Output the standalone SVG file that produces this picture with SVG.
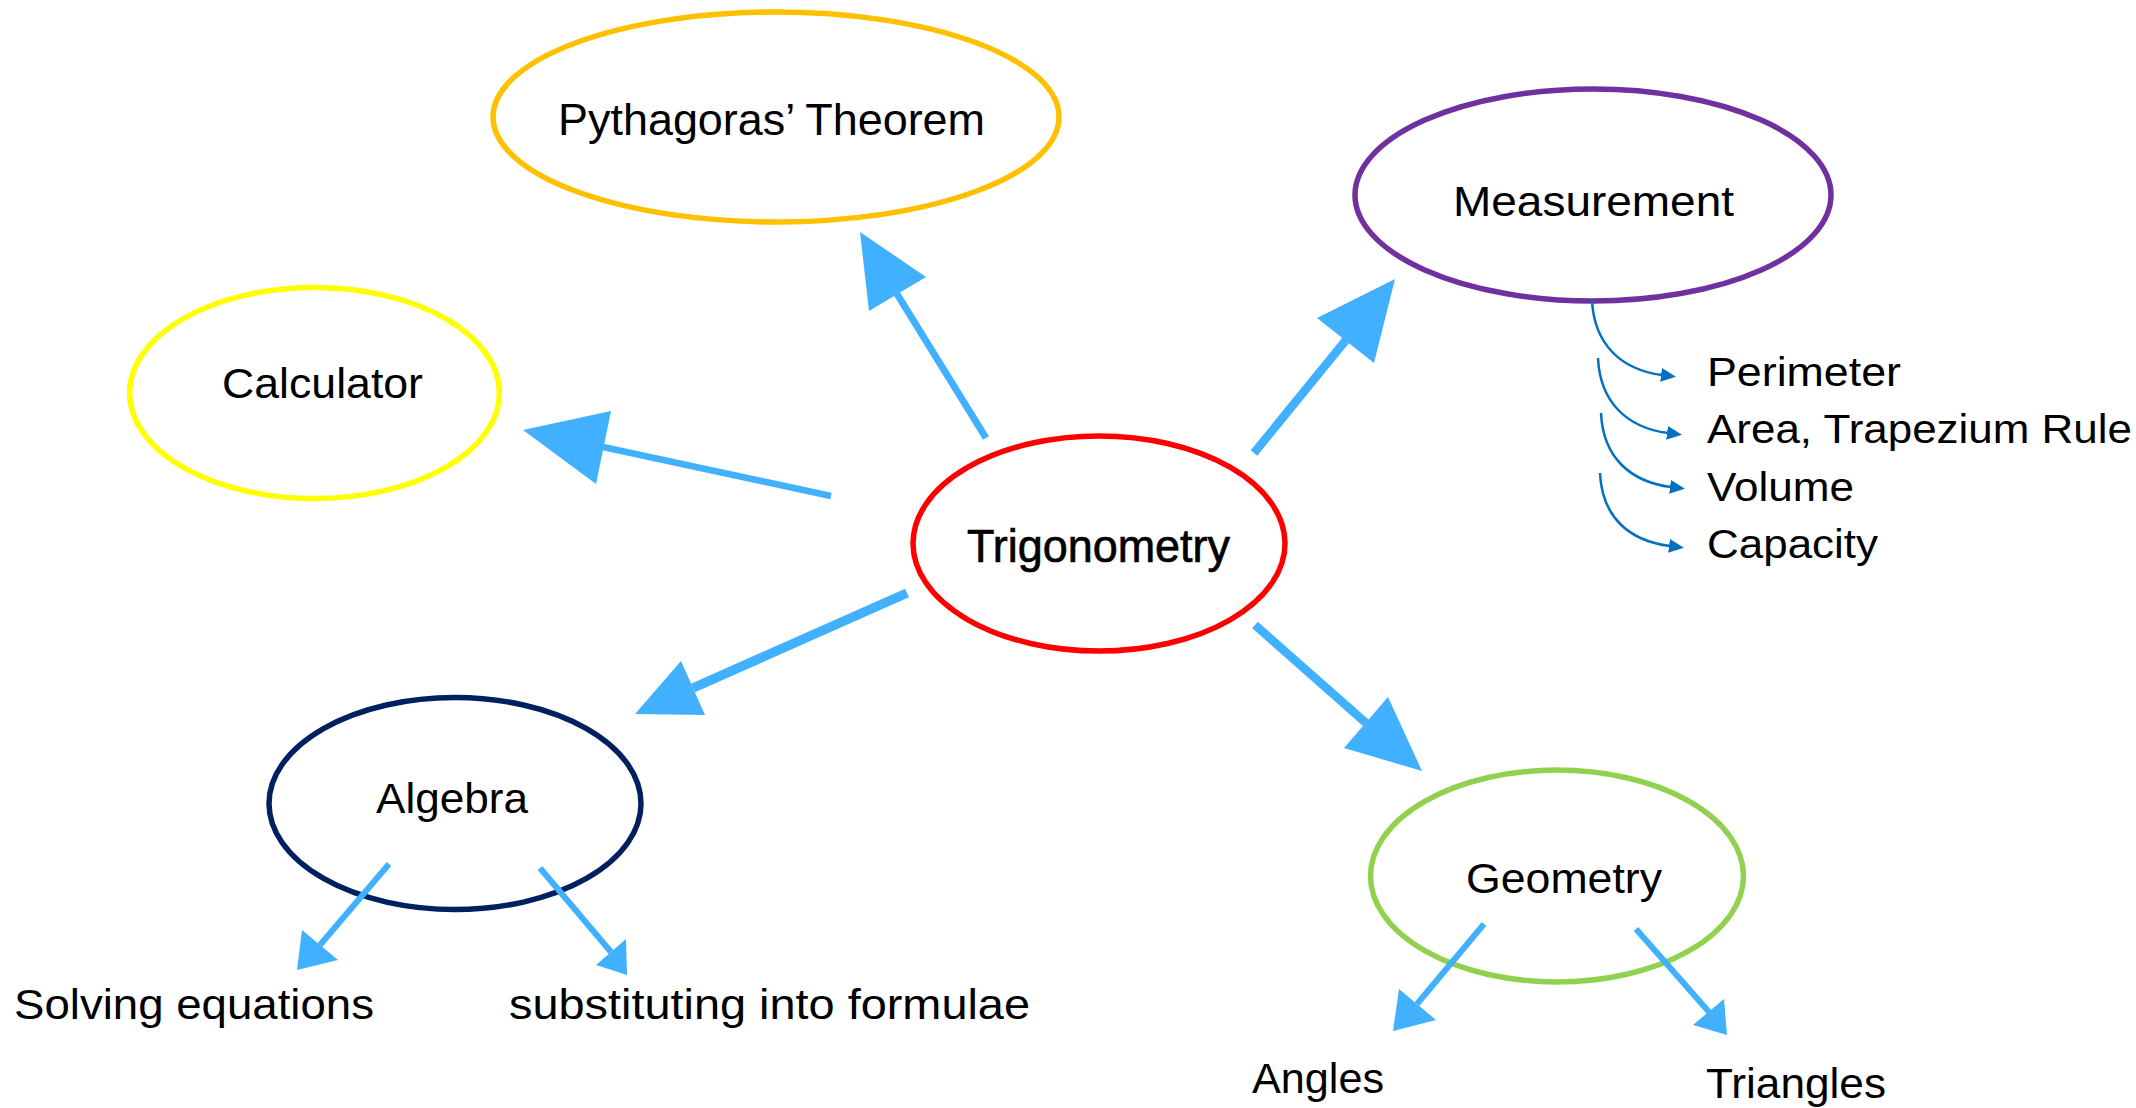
<svg xmlns="http://www.w3.org/2000/svg" width="2136" height="1108" viewBox="0 0 2136 1108">
<style>
.node{fill:#fff;stroke-width:5.5}
.lbl{font-family:"Liberation Sans",Arial,sans-serif;fill:#000}
.big{stroke:#40B0FF;fill:none;stroke-linecap:butt}
.head{fill:#40B0FF}
.sub{stroke:#0070C0;stroke-width:2.5;fill:none}
</style>
<defs>
<marker id="sm" markerUnits="userSpaceOnUse" markerWidth="18" markerHeight="18" refX="1" refY="7" orient="auto">
<path d="M0,0 L15,7 L0,14 Z" fill="#0070C0"/>
</marker>
</defs>
<rect width="2136" height="1108" fill="#fff"/>

<g id="pythagoras">
<ellipse class="node" cx="776" cy="117" rx="283" ry="105" stroke="#FFC000"/>
<text class="lbl" x="558" y="135" font-size="44" textLength="427" lengthAdjust="spacingAndGlyphs">Pythagoras’ Theorem</text>
</g>
<g id="calculator">
<ellipse class="node" cx="314.5" cy="393" rx="185" ry="105.5" stroke="#FFFF00"/>
<text class="lbl" x="222" y="398" font-size="43" textLength="201" lengthAdjust="spacingAndGlyphs">Calculator</text>
</g>
<g id="measurement">
<ellipse class="node" cx="1593" cy="195" rx="238" ry="106" stroke="#7030A0"/>
<text class="lbl" x="1453" y="216" font-size="42" textLength="281" lengthAdjust="spacingAndGlyphs">Measurement</text>
</g>
<g id="trigonometry">
<ellipse class="node" cx="1099" cy="543.5" rx="186" ry="107.5" stroke="#FF0000" stroke-width="7"/>
<text class="lbl" x="967" y="562" font-size="46" textLength="263" lengthAdjust="spacingAndGlyphs" stroke="#000" stroke-width="0.7">Trigonometry</text>
</g>
<g id="algebra">
<ellipse class="node" cx="455" cy="803.5" rx="186" ry="106" stroke="#002060"/>
<text class="lbl" x="376" y="813" font-size="43" textLength="152" lengthAdjust="spacingAndGlyphs">Algebra</text>
</g>
<g id="geometry">
<ellipse class="node" cx="1557" cy="876" rx="186.5" ry="106" stroke="#92D050"/>
<text class="lbl" x="1466" y="893" font-size="43" textLength="196" lengthAdjust="spacingAndGlyphs">Geometry</text>
</g>

<g id="measurement-items">
<text class="lbl" x="1707" y="386" font-size="41" textLength="194" lengthAdjust="spacingAndGlyphs">Perimeter</text>
<text class="lbl" x="1707" y="443" font-size="41" textLength="425" lengthAdjust="spacingAndGlyphs">Area, Trapezium Rule</text>
<text class="lbl" x="1707" y="501" font-size="41" textLength="147" lengthAdjust="spacingAndGlyphs">Volume</text>
<text class="lbl" x="1707" y="558" font-size="41" textLength="171" lengthAdjust="spacingAndGlyphs">Capacity</text>
</g>
<g id="algebra-items">
<text class="lbl" x="14" y="1019" font-size="42" textLength="360" lengthAdjust="spacingAndGlyphs">Solving equations</text>
<text class="lbl" x="509" y="1019" font-size="42" textLength="521" lengthAdjust="spacingAndGlyphs">substituting into formulae</text>
</g>
<g id="geometry-items">
<text class="lbl" x="1252" y="1093" font-size="42" textLength="132" lengthAdjust="spacingAndGlyphs">Angles</text>
<text class="lbl" x="1706" y="1098" font-size="42" textLength="180" lengthAdjust="spacingAndGlyphs">Triangles</text>
</g>

<g id="connectors">
<line class="big" stroke-width="7" x1="986" y1="438" x2="897" y2="294"/>
<polygon class="head" points="860,232 926,277 869,311"/>
<line class="big" stroke-width="6.5" x1="831" y1="496" x2="603" y2="447"/>
<polygon class="head" points="523,430 611,411 596,484"/>
<line class="big" stroke-width="8.5" x1="1254" y1="453" x2="1346" y2="340"/>
<polygon class="head" points="1395,279 1317,318 1374,363"/>
<line class="big" stroke-width="9.5" x1="907" y1="593" x2="693" y2="688"/>
<polygon class="head" points="635,714 681,661 705,715"/>
<line class="big" stroke-width="8.5" x1="1255" y1="625" x2="1366" y2="723"/>
<polygon class="head" points="1422,771 1388,697 1344,748"/>

<line class="big" stroke-width="6" x1="389" y1="864" x2="320" y2="945"/>
<polygon class="head" points="297,970 338,960 302,930"/>
<line class="big" stroke-width="6" x1="540" y1="868" x2="611" y2="952"/>
<polygon class="head" points="627,975 596,965 626,939"/>
<line class="big" stroke-width="6" x1="1484" y1="924" x2="1417" y2="1004"/>
<polygon class="head" points="1393,1031 1436,1020 1399,989"/>
<line class="big" stroke-width="6" x1="1636" y1="929" x2="1709" y2="1012"/>
<polygon class="head" points="1727,1035 1693,1025 1724,999"/>

<path class="sub" marker-end="url(#sm)" d="M1592,300 C1594,345 1622,370 1662,375"/>
<path class="sub" marker-end="url(#sm)" d="M1598,358 C1600,403 1628,428 1668,433"/>
<path class="sub" marker-end="url(#sm)" d="M1601,413 C1603,458 1631,482 1671,487"/>
<path class="sub" marker-end="url(#sm)" d="M1600,473 C1602,518 1630,541 1670,546"/>
</g>
</svg>
